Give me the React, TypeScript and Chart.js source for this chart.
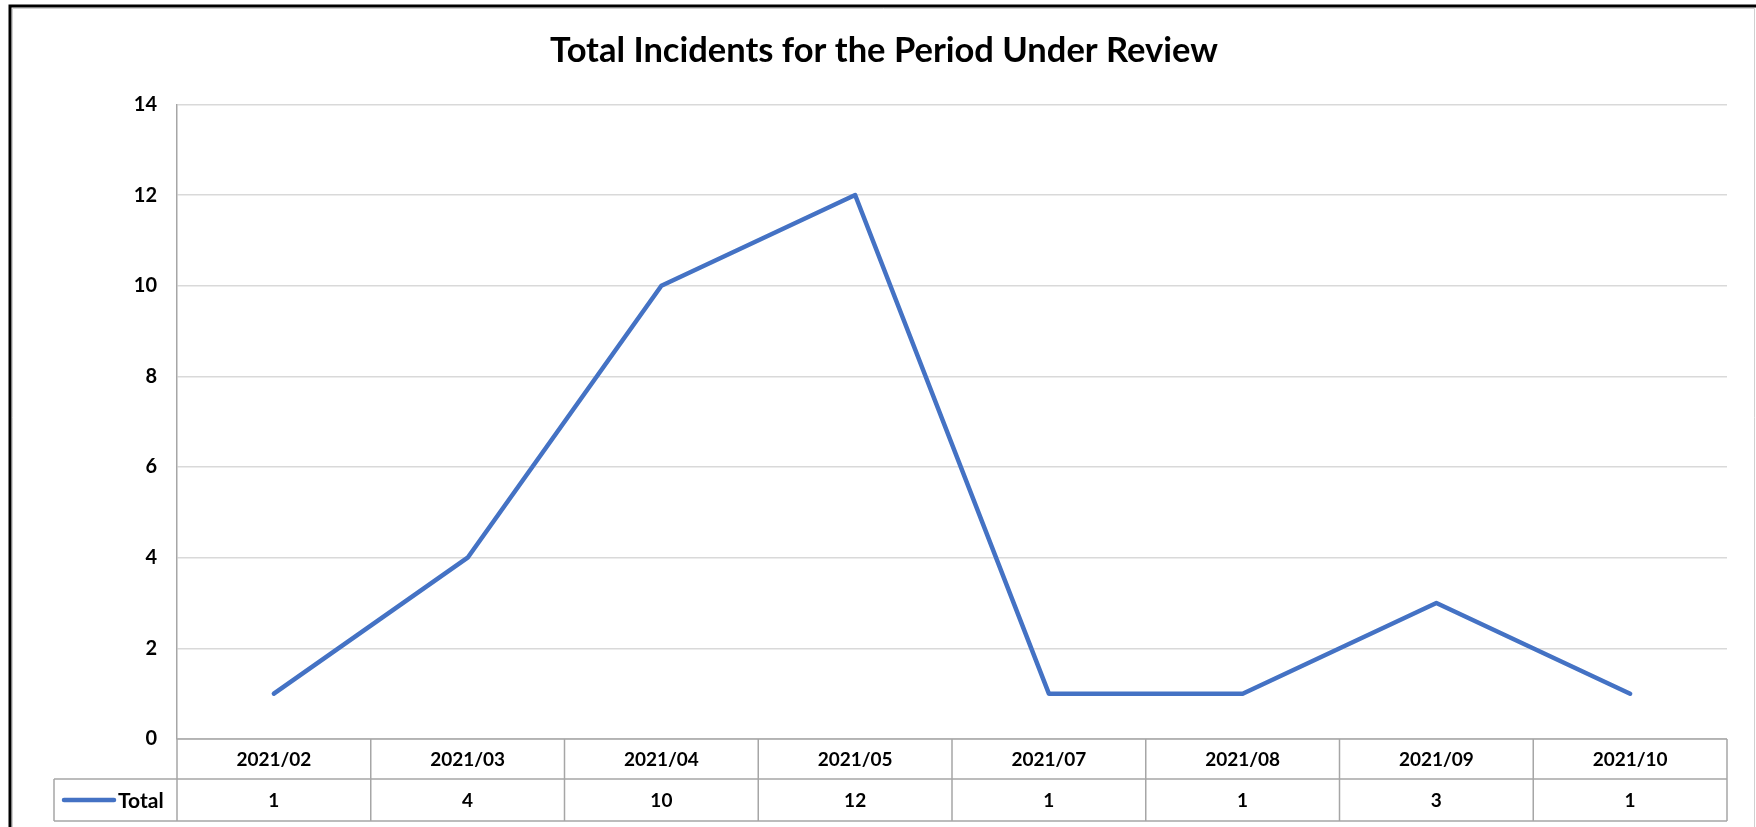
import React, { useEffect, useRef } from "react";
import { Chart, registerables } from "chart.js";

Chart.register(...registerables);

const categories = ["2021/02", "2021/03", "2021/04", "2021/05", "2021/07", "2021/08", "2021/09", "2021/10"];
const totalValues = [1, 4, 10, 12, 1, 1, 3, 1];
const seriesName = "Total";
const chartTitle = "Total Incidents for the Period Under Review";
const yTicks = [0, 2, 4, 6, 8, 10, 12, 14];

const FONT = "Lato, 'Open Sans', sans-serif";
const LINE_COLOR = "#4472C4";
const TABLE_BORDER = "#a6a6a6";

const tablePlugin = {
  id: "dataTable",
  beforeDraw(chart: any) {
    const ctx = chart.ctx;
    ctx.save();
    ctx.fillStyle = "#ffffff";
    ctx.fillRect(0, 0, chart.width, chart.height);
    ctx.restore();
  },
  afterDraw(chart: any) {
    const ctx = chart.ctx;
    const xs = chart.scales.x;
    const area = chart.chartArea;
    const n = categories.length;
    const colW = (area.right - area.left) / n;
    const top = area.bottom;
    const mid = top + 40;
    const bot = mid + 42;
    const legendLeft = 54;

    ctx.save();
    ctx.strokeStyle = TABLE_BORDER;
    ctx.lineWidth = 1.5;
    ctx.beginPath();
    ctx.moveTo(area.left, top);
    ctx.lineTo(area.right, top);
    ctx.moveTo(legendLeft, mid);
    ctx.lineTo(area.right, mid);
    ctx.moveTo(legendLeft, bot);
    ctx.lineTo(area.right, bot);
    ctx.moveTo(legendLeft, mid);
    ctx.lineTo(legendLeft, bot);
    for (let i = 0; i <= n; i++) {
      const c = i < n ? xs.getPixelForTick(i) - colW / 2 : xs.getPixelForTick(n - 1) + colW / 2;
      ctx.moveTo(c, top);
      ctx.lineTo(c, bot);
    }
    ctx.stroke();

    ctx.fillStyle = "#000000";
    ctx.font = `bold 19px ${FONT}`;
    ctx.textAlign = "center";
    ctx.textBaseline = "middle";
    for (let i = 0; i < n; i++) {
      const cx = xs.getPixelForTick(i);
      ctx.fillText(categories[i], cx, (top + mid) / 2 + 1);
      ctx.fillText(String(totalValues[i]), cx, (mid + bot) / 2 + 1);
    }
    ctx.strokeStyle = LINE_COLOR;
    ctx.lineWidth = 4.5;
    ctx.lineCap = "round";
    ctx.beginPath();
    ctx.moveTo(64, (mid + bot) / 2);
    ctx.lineTo(114, (mid + bot) / 2);
    ctx.stroke();
    ctx.font = `bold 21px ${FONT}`;
    ctx.textAlign = "left";
    ctx.fillText(seriesName, 118, (mid + bot) / 2 + 1);

    ctx.lineCap = "butt";
    ctx.strokeStyle = "#000000";
    ctx.lineWidth = 3;
    ctx.beginPath();
    ctx.moveTo(10, chart.height);
    ctx.lineTo(10, 6);
    ctx.lineTo(chart.width, 6);
    ctx.stroke();
    ctx.strokeStyle = "#d0d0d0";
    ctx.lineWidth = 1;
    ctx.beginPath();
    ctx.moveTo(12.5, chart.height);
    ctx.lineTo(12.5, 8.5);
    ctx.lineTo(chart.width - 1.5, 8.5);
    ctx.lineTo(chart.width - 1.5, chart.height);
    ctx.stroke();
    ctx.restore();
  },
};

export default function App() {
  const canvasRef = useRef<HTMLCanvasElement | null>(null);

  useEffect(() => {
    const canvas = canvasRef.current;
    if (!canvas) return;
    const chart = new Chart(canvas, {
      type: "line",
      data: {
        labels: categories,
        datasets: [
          {
            label: seriesName,
            data: totalValues,
            borderColor: LINE_COLOR,
            backgroundColor: LINE_COLOR,
            borderWidth: 4.5,
            pointRadius: 0,
            pointHoverRadius: 0,
            tension: 0,
            borderJoinStyle: "round",
            borderCapStyle: "round",
          },
        ],
      },
      options: {
        responsive: false,
        animation: false,
        layout: { padding: { top: 0, left: 41, right: 29, bottom: 88 } },
        plugins: {
          legend: { display: false },
          tooltip: { enabled: false },
          title: {
            display: true,
            text: chartTitle,
            color: "#000000",
            font: { family: FONT, size: 34.5, weight: "bold" },
            padding: { top: 30, bottom: 33 },
          },
        },
        scales: {
          x: {
            type: "category",
            offset: true,
            display: false,
          },
          y: {
            min: 0,
            max: 14,
            afterBuildTicks: (scale: any) => {
              scale.ticks = yTicks.map((v) => ({ value: v }));
            },
            afterFit: (scale: any) => {
              scale.width = 136;
            },
            grid: {
              color: "#d9d9d9",
              lineWidth: 1.5,
              drawTicks: false,
            },
            border: { display: true, color: TABLE_BORDER, width: 1.5 },
            ticks: {
              color: "#000000",
              padding: 20,
              font: { family: FONT, size: 20, weight: "bold" },
            },
          },
        },
      },
      plugins: [tablePlugin],
    });
    return () => chart.destroy();
  }, []);

  return (
    <div style={{ position: "absolute", left: 0, top: 0, width: 1756, height: 827 }}>
      <canvas ref={canvasRef} width={1756} height={827} style={{ width: 1756, height: 827, display: "block" }} />
    </div>
  );
}
